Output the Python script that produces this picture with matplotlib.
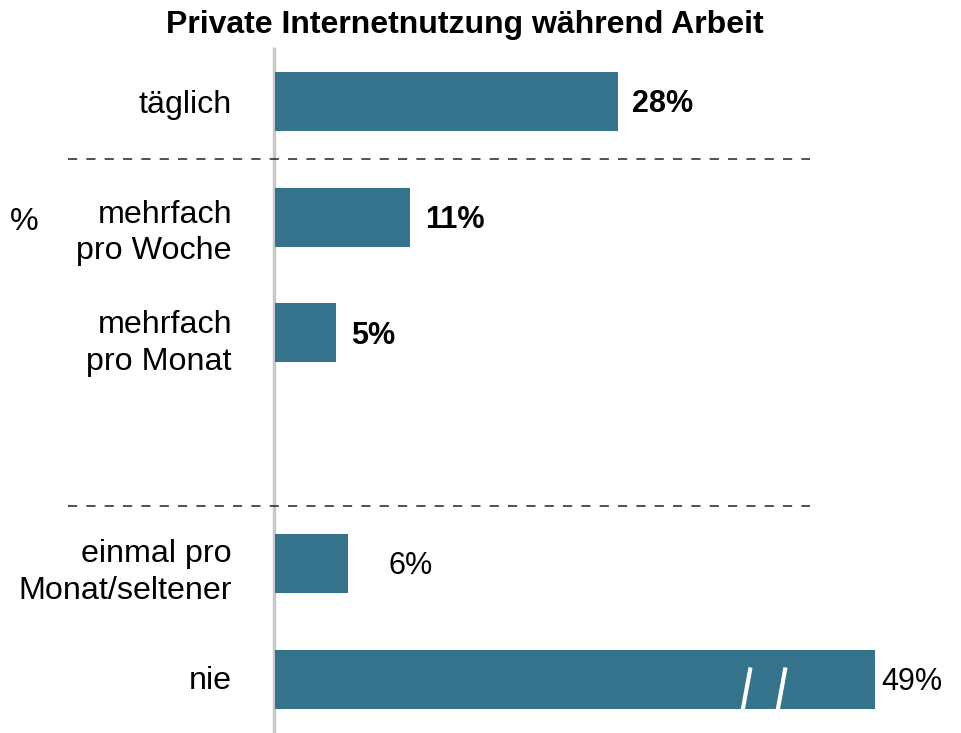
import matplotlib.pyplot as plt
import matplotlib.transforms as mtransforms

plt.rcParams['font.family'] = ['Liberation Sans', 'DejaVu Sans']

# --- data ---
TITLE = 'Private Internetnutzung während Arbeit'
categories = ['täglich', 'mehrfach\npro Woche', 'mehrfach\npro Monat',
              'einmal pro\nMonat/seltener', 'nie']
values = [28, 11, 5, 6, 49]
value_labels = ['28%', '11%', '5%', '6%', '49%']
slots = [0, 1, 2, 4, 5]          # row positions (gap between row 2 and 4)
separators = [0.5, 3.5]          # dashed group separators

# --- styles ---
BAR_COLOR = '#35738c'
bold_value = [True, True, True, False, False]
value_pad = [14, 15, 15, 40, 6]  # px gap between bar end and label
label_shift = [4, 16, 11, 9, 2]  # px downward shift of category label

PX = 12.25      # px per percent
ROW = 115.5     # px per row
X0, Y0 = 275, 101.5
W, H = 962, 733

fig = plt.figure(figsize=(W / 100, H / 100), dpi=100)
ax = fig.add_axes([0, 0, 1, 1])
ax.set_xlim(-X0 / PX, (W - X0) / PX)
ax.set_ylim((H - Y0) / ROW, -Y0 / ROW)
ax.axis('off')

ax.barh(slots, values, height=59 / ROW, color=BAR_COLOR, zorder=2)

# vertical baseline
ax.plot([-0.1, -0.1], [(47 - Y0) / ROW, (H - Y0) / ROW], color='#c8c8c8',
        lw=2.5, zorder=1, solid_capstyle='butt')

# dashed separators
for s in separators:
    ax.plot([(68 - X0) / PX, (810 - X0) / PX], [s, s], color='#333333',
            lw=1.2, dashes=(5.5, 5.5), zorder=1)

def px_off(dx, dy):
    return mtransforms.offset_copy(ax.transData, fig=fig, x=dx, y=-dy,
                                   units='dots')

for s, v, lab, b, pad in zip(slots, values, value_labels, bold_value, value_pad):
    ax.text(v, s, lab, transform=px_off(pad, 3), ha='left', va='center',
            fontsize=22, fontweight='bold' if b else 'normal', color='black')

for s, cat, sh in zip(slots, categories, label_shift):
    ax.text(0, s, cat, transform=px_off(-43, sh), ha='right', va='center',
            fontsize=23.2, linespacing=1.3, color='black')

ax.text(-X0 / PX, slots[1], '%', transform=px_off(10, 5), ha='left',
        va='center', fontsize=23.2, color='black')

# break marks on the long bar
nie = slots[-1]
for xb in [(745 - X0) / PX, (780 - X0) / PX]:
    ax.plot([xb - 0.45, xb + 0.45], [nie + 0.42, nie - 0.1], color='white',
            lw=3, zorder=3, solid_capstyle='butt')

fig.text(465 / W, 1 - 25 / H, TITLE, ha='center', va='center',
         fontsize=23, fontweight='bold')

fig.savefig('out.png', dpi=100)
